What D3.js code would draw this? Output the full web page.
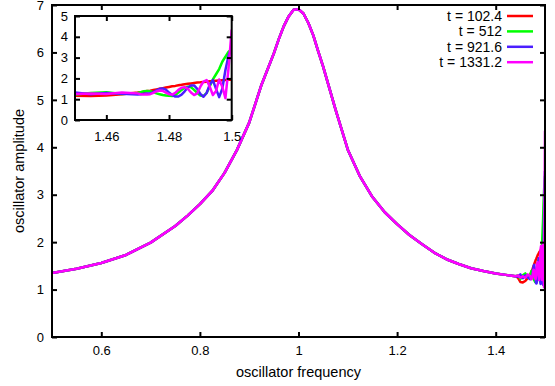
<!DOCTYPE html>
<html lang="en">
  <head>
    <meta charset="UTF-8" />
    <script src="https://d3js.org/d3.v7.min.js"></script>
    <title>Oscillator amplitude</title>
    <style>
      body { margin: 0; background: #fff; }
      text { font-family: "Liberation Sans", Arial, sans-serif; font-size: 13px; fill: #000; }
    </style>
  </head>
  <body>
    <svg id="chart" width="555" height="386"></svg>
    <script>
      // Shared part of the curve (all four series lie on top of each other here)
      var bodyFreq = [0.50, 0.55, 0.60, 0.65, 0.70, 0.75, 0.775, 0.80, 0.825, 0.85, 0.875, 0.90, 0.925,
        0.95, 0.96, 0.97, 0.98, 0.99, 1.00, 1.01, 1.02, 1.03, 1.04, 1.05, 1.075, 1.10, 1.125, 1.15,
        1.175, 1.20, 1.225, 1.25, 1.275, 1.30, 1.325, 1.35, 1.375, 1.40, 1.42, 1.44];
      var bodyAmp = [1.35, 1.44, 1.56, 1.73, 1.99, 2.34, 2.56, 2.80, 3.08, 3.46, 3.94, 4.52, 5.32,
        5.98, 6.28, 6.55, 6.76, 6.90, 6.91, 6.82, 6.62, 6.36, 6.02, 5.70, 4.80, 3.95, 3.38, 2.95,
        2.63, 2.38, 2.15, 1.96, 1.78, 1.64, 1.54, 1.45, 1.39, 1.34, 1.31, 1.28];

      // Tail near the edge, where the series split apart
      var tailFreq = [1.445, 1.450, 1.455, 1.460, 1.465,
        1.470, 1.471, 1.472, 1.473, 1.474, 1.475, 1.476, 1.477, 1.478, 1.479, 1.480,
        1.481, 1.482, 1.483, 1.484, 1.485, 1.486, 1.487, 1.488, 1.489, 1.490,
        1.491, 1.492, 1.493, 1.494, 1.495, 1.496, 1.497, 1.498, 1.499, 1.500];
      var ampRed = [1.25, 1.16, 1.15, 1.18, 1.24,
        1.32, 1.34, 1.36, 1.39, 1.41, 1.44, 1.47, 1.50, 1.53, 1.56, 1.59,
        1.62, 1.64, 1.67, 1.69, 1.72, 1.74, 1.76, 1.78, 1.80, 1.81,
        1.83, 1.84, 1.86, 1.87, 1.89, 1.90, 1.91, 1.92, 1.93, 1.94];
      var ampGreen = [1.30, 1.22, 1.30, 1.34, 1.25,
        1.30, 1.34, 1.38, 1.40, 1.38, 1.34, 1.28, 1.24, 1.20, 1.18, 1.16,
        1.15, 1.20, 1.32, 1.45, 1.55, 1.60, 1.58, 1.45, 1.30, 1.18,
        1.15, 1.30, 1.62, 1.95, 2.20, 2.45, 2.80, 3.05, 3.28, 3.40];
      var ampBlue = [1.27, 1.32, 1.24, 1.30, 1.26,
        1.22, 1.24, 1.26, 1.28, 1.28, 1.34, 1.42, 1.50, 1.52, 1.46, 1.32,
        1.20, 1.13, 1.13, 1.22, 1.38, 1.56, 1.66, 1.66, 1.50, 1.25,
        1.12, 1.30, 1.70, 1.92, 1.50, 1.10, 1.50, 2.40, 3.10, 3.50];
      var ampMagenta = [1.30, 1.25, 1.28, 1.25, 1.32,
        1.28, 1.24, 1.22, 1.22, 1.24, 1.30, 1.38, 1.42, 1.40, 1.32, 1.24,
        1.22, 1.30, 1.45, 1.55, 1.58, 1.50, 1.32, 1.20, 1.28, 1.60,
        1.85, 1.92, 1.60, 1.20, 1.40, 1.95, 1.60, 1.05, 2.50, 4.35];

      var seriesNames = ['t = 102.4', 't = 512', 't = 921.6', 't = 1331.2'];
      var seriesColors = ['#ff0000', '#00ff00', '#4b1eff', '#ff00ff'];
      var tailAmps = [ampRed, ampGreen, ampBlue, ampMagenta];

      var xTicks = [0.6, 0.8, 1, 1.2, 1.4];
      var yTicks = [0, 1, 2, 3, 4, 5, 6, 7];
      var insetXTicks = [1.46, 1.48, 1.5];
      var insetYTicks = [0, 1, 2, 3, 4, 5];

      var svg = d3.select('#chart');

      // build [x, y] points for every series
      var series = seriesNames.map(function(name, i) {
        var pts = bodyFreq.map(function(f, j) { return [f, bodyAmp[j]]; });
        tailFreq.forEach(function(f, j) { pts.push([f, tailAmps[i][j]]); });
        return { name: name, color: seriesColors[i], points: pts };
      });

      // Main plot
      var x = d3.scaleLinear().domain([0.5, 1.5]).range([52, 545]);
      var y = d3.scaleLinear().domain([0, 7]).range([337, 5]);

      svg.append('clipPath').attr('id', 'clipMain')
        .append('rect').attr('x', 52).attr('y', 5).attr('width', 493).attr('height', 332);

      var line = d3.line()
        .x(function(d) { return x(d[0]); })
        .y(function(d) { return y(d[1]); });

      svg.append('g').attr('clip-path', 'url(#clipMain)')
        .selectAll('path').data(series).enter().append('path')
        .attr('d', function(d) { return line(d.points); })
        .attr('fill', 'none')
        .attr('stroke', function(d) { return d.color; })
        .attr('stroke-width', 2.5)
        .attr('stroke-linejoin', 'round');

      function drawAxes(g, xs, ys, xt, yt, xPad, yPad, fmtX) {
        var x0 = xs.range()[0], x1 = xs.range()[1];
        var y0 = ys.range()[0], y1 = ys.range()[1];
        g.append('g').attr('transform', 'translate(0,' + y0 + ')')
          .call(d3.axisBottom(xs).tickValues(xt).tickSize(-5).tickPadding(xPad).tickFormat(fmtX))
          .call(function(a) { a.select('.domain').remove(); });
        g.append('g').attr('transform', 'translate(0,' + y1 + ')')
          .call(d3.axisTop(xs).tickValues(xt).tickSize(-5).tickFormat(''))
          .call(function(a) { a.select('.domain').remove(); });
        g.append('g').attr('transform', 'translate(' + x0 + ',0)')
          .call(d3.axisLeft(ys).tickValues(yt).tickSize(-5).tickPadding(yPad).tickFormat(d3.format('d')))
          .call(function(a) { a.select('.domain').remove(); });
        g.append('g').attr('transform', 'translate(' + x1 + ',0)')
          .call(d3.axisRight(ys).tickValues(yt).tickSize(-5).tickFormat(''))
          .call(function(a) { a.select('.domain').remove(); });
        g.selectAll('.tick line').attr('stroke', '#000').attr('stroke-width', 2);
        g.selectAll('.tick text').style('font-family', '"Liberation Sans", Arial, sans-serif')
          .style('font-size', '13px').attr('fill', '#000');
        g.append('rect')
          .attr('x', x0).attr('y', y1).attr('width', x1 - x0).attr('height', y0 - y1)
          .attr('fill', 'none').attr('stroke', '#000').attr('stroke-width', 2);
      }

      drawAxes(svg.append('g'), x, y, xTicks, yTicks, 9, 8, d3.format('~g'));

      // axis titles
      svg.append('text').attr('x', 298.5).attr('y', 377)
        .attr('text-anchor', 'middle').style('font-size', '14.5px').text('oscillator frequency');
      svg.append('text').attr('transform', 'translate(24,171) rotate(-90)')
        .attr('text-anchor', 'middle').style('font-size', '14.5px').text('oscillator amplitude');

      // legend
      var key = svg.append('g');
      series.forEach(function(s, i) {
        var cy = 16 + i * 15.4;
        key.append('text').attr('x', 502).attr('y', cy + 5)
          .attr('text-anchor', 'end').style('white-space', 'pre').style('font-size', '14px')
          .text(s.name);
        key.append('line').attr('x1', 507).attr('x2', 533).attr('y1', cy).attr('y2', cy)
          .attr('stroke', s.color).attr('stroke-width', 2.5);
      });

      // Inset zoom on the right edge
      var xi = d3.scaleLinear().domain([1.45, 1.5]).range([75, 231.7]);
      var yi = d3.scaleLinear().domain([0, 5]).range([120, 16]);

      svg.append('clipPath').attr('id', 'clipInset')
        .append('rect').attr('x', 75).attr('y', 16).attr('width', 156.7).attr('height', 104);

      var lineInset = d3.line()
        .x(function(d) { return xi(d[0]); })
        .y(function(d) { return yi(d[1]); });

      svg.append('g').attr('clip-path', 'url(#clipInset)')
        .selectAll('path').data(series).enter().append('path')
        .attr('d', function(d) { return lineInset(d.points); })
        .attr('fill', 'none')
        .attr('stroke', function(d) { return d.color; })
        .attr('stroke-width', 2.5)
        .attr('stroke-linejoin', 'round');

      drawAxes(svg.append('g'), xi, yi, insetXTicks, insetYTicks, 12, 7, d3.format('~g'));
    </script>
  </body>
</html>
